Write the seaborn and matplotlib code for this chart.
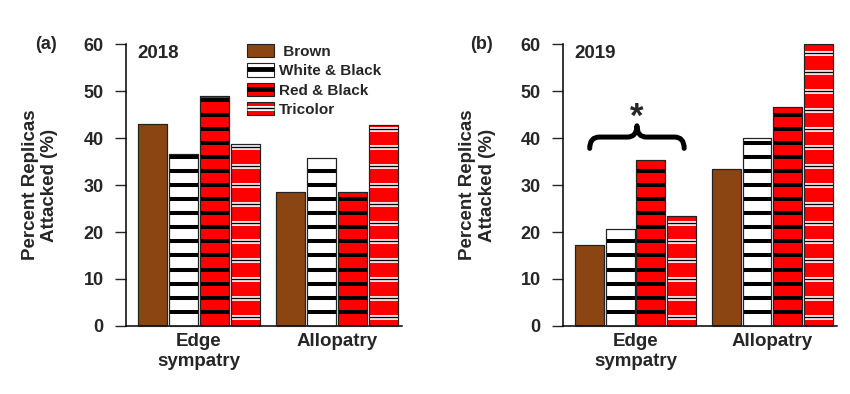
import numpy as np
import seaborn as sns
import pandas as pd
import matplotlib.pyplot as plt
from matplotlib.patches import Rectangle, PathPatch
from matplotlib.lines import Line2D
from matplotlib.path import Path

# Data
sites = ['Edge\nsympatry', 'Allopatry']
morphs = ['Brown', 'White & Black', 'Red & Black', 'Tricolor']
pct_2018 = {'Edge\nsympatry': [42.9, 36.6, 48.9, 38.7],
            'Allopatry': [28.5, 35.7, 28.5, 42.8]}
pct_2019 = {'Edge\nsympatry': [17.3, 20.6, 35.3, 23.3],
            'Allopatry': [33.3, 40.0, 46.7, 60.0]}
face = {'Brown': '#8B4513', 'White & Black': 'white',
        'Red & Black': '#FF0000', 'Tricolor': '#FF0000'}

sns.set_style('ticks')
plt.rcParams['font.family'] = ['Liberation Sans', 'DejaVu Sans']
plt.rcParams['font.weight'] = 'bold'


def to_frame(d):
    rows = [(s, m, v) for s in sites for m, v in zip(morphs, d[s])]
    return pd.DataFrame(rows, columns=['site', 'morph', 'pct'])


def stripe_bars(ax):
    # horizontal stripe texture clipped to each bar, then a fresh outline on top
    for cont, m in zip(ax.containers, morphs):
        for bar in cont:
            x, w, h = bar.get_x(), bar.get_width(), bar.get_height()
            if m in ('White & Black', 'Red & Black'):
                lc = ax.hlines(np.arange(3, h, 3), x, x + w, color='black', lw=2.9)
                lc.set_clip_path(bar)
            elif m == 'Tricolor':
                ys = np.arange(2, h, 4)
                lc = ax.hlines(ys, x, x + w, color='white', lw=3.4)
                lc.set_clip_path(bar)
                lc = ax.hlines(ys, x, x + w, color='black', lw=1.0)
                lc.set_clip_path(bar)
            ax.add_patch(Rectangle((x, 0), w, h, fill=False, ec='#222222',
                                   lw=0.8, zorder=4, clip_on=False))


def panel(ax, d, year, tag, figx):
    df = to_frame(d)
    sns.barplot(data=df, x='site', y='pct', hue='morph', order=sites,
                hue_order=morphs, palette=face, saturation=1, width=0.9,
                gap=0.06, errorbar=None, edgecolor='#222222', linewidth=0.8,
                legend=False, ax=ax)
    stripe_bars(ax)
    ax.set_xlim(-0.53, 1.47)
    ax.set_ylim(0, 60)
    ax.set_yticks(range(0, 61, 10))
    ax.set_xlabel('')
    ax.set_ylabel('Percent Replicas\nAttacked (%)', fontsize=13.5,
                  fontweight='bold', labelpad=18)
    ax.tick_params(axis='y', length=8, width=1, pad=8, labelsize=13)
    ax.tick_params(axis='x', length=0, pad=5, labelsize=13.5)
    for t in ax.get_xticklabels():
        t.set_linespacing(1.25)
        t.set_fontweight('bold')
    for t in ax.get_yticklabels():
        t.set_fontweight('bold')
    sns.despine(ax=ax)
    for sp in ('left', 'bottom'):
        ax.spines[sp].set_linewidth(1.1)
        ax.spines[sp].set_color('black')
    ax.text(0.043, 0.995, year, transform=ax.transAxes, ha='left', va='top',
            fontsize=13.5, fontweight='bold')
    ax.figure.text(figx, 0.886, tag, ha='left', va='center', fontsize=13,
                   fontweight='bold')


fig = plt.figure(figsize=(8.5, 3.94), dpi=100)
ax1 = fig.add_axes([0.148, 0.1726, 0.325, 0.7157])
ax2 = fig.add_axes([0.6624, 0.1726, 0.322, 0.7157])

panel(ax1, pct_2018, '2018', '(a)', 0.041)
panel(ax2, pct_2019, '2019', '(b)', 0.553)

# legend with striped swatches
handles = [
    Rectangle((0, 0), 1, 1, fc=face['Brown'], ec='#222222', lw=0.8),
    (Rectangle((0, 0), 1, 1, fc='white', ec='#222222', lw=0.8),
     Line2D([], [], color='black', lw=3.5, solid_capstyle='butt')),
    (Rectangle((0, 0), 1, 1, fc='#FF0000', ec='#222222', lw=0.8),
     Line2D([], [], color='black', lw=3.5, solid_capstyle='butt')),
    (Rectangle((0, 0), 1, 1, fc='#FF0000', ec='#222222', lw=0.8),
     Line2D([], [], color='white', lw=3.6, solid_capstyle='butt'),
     Line2D([], [], color='black', lw=1.0, solid_capstyle='butt')),
]
ax1.legend(handles, [' Brown', 'White & Black', 'Red & Black', 'Tricolor'],
           loc='upper left', bbox_to_anchor=(0.438, 1.0), frameon=False,
           borderpad=0, borderaxespad=0, handlelength=1.8, handleheight=0.95,
           labelspacing=0.3, handletextpad=0.3,
           prop={'size': 11, 'weight': 'bold'})

# significance brace over the edge-sympatry group in 2019
x0, x1 = -0.335, 0.355
xm = (x0 + x1) / 2
y0, y1, y2 = 37.8, 40.2, 42.6
dx = 0.07
verts = [(x0, y0), (x0, y1), (x0 + dx, y1), (xm - dx, y1), (xm, y1), (xm, y2),
         (xm, y1), (xm + dx, y1), (x1 - dx, y1), (x1, y1), (x1, y0)]
codes = [Path.MOVETO, Path.CURVE3, Path.CURVE3, Path.LINETO, Path.CURVE3,
         Path.CURVE3, Path.CURVE3, Path.CURVE3, Path.LINETO, Path.CURVE3,
         Path.CURVE3]
ax2.add_patch(PathPatch(Path(verts, codes), fill=False, lw=3.6,
                        ec='black', capstyle='round', joinstyle='round', zorder=5))
ax2.text(xm, 40.9, '*', ha='center', va='bottom', fontsize=25,
         fontweight='bold')

fig.savefig('out.png', dpi=100)
